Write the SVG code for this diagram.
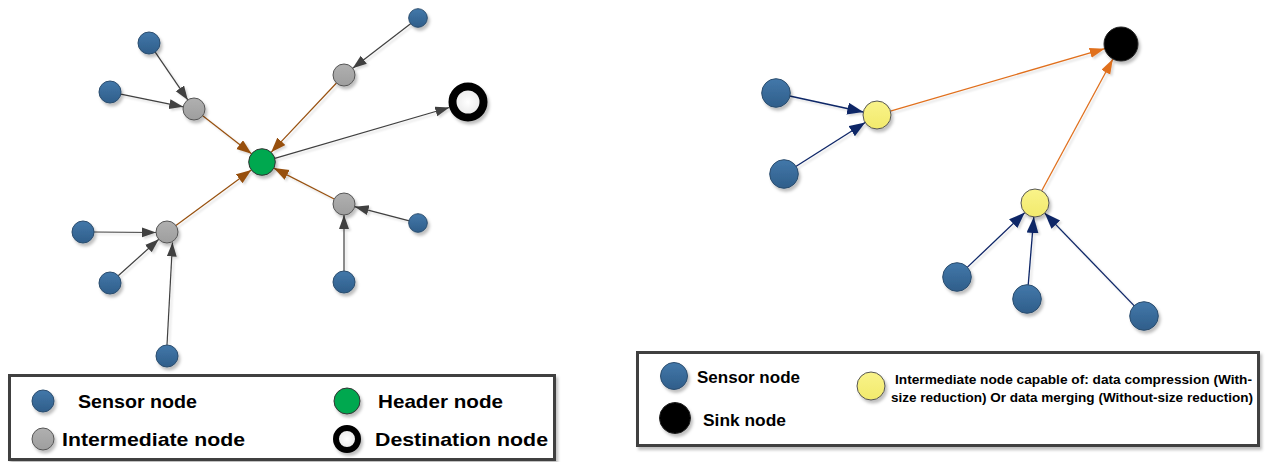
<svg xmlns="http://www.w3.org/2000/svg" width="1269" height="462" viewBox="0 0 1269 462">
<style>
.t{font-family:"Liberation Sans",Arial,sans-serif;font-weight:bold;fill:#000}
.sensor{fill:url(#gBlue);stroke:#2b4d6e;stroke-width:1}
.inter{fill:url(#gGray);stroke:#555;stroke-width:1}
.head{fill:#00a850;stroke:#333;stroke-width:1}
.yel{fill:url(#gYel);stroke:#555;stroke-width:1}
.sink{fill:#000;stroke:#222;stroke-width:1}
.dest{fill:url(#gWhite);stroke:#000}
.e-k{stroke:#404040;stroke-width:1.2;fill:none;marker-end:url(#aK)}
.e-b{stroke:#97500f;stroke-width:1.2;fill:none;marker-end:url(#aB)}
.e-n{stroke:#0b2566;stroke-width:1.3;fill:none;marker-end:url(#aN)}
.e-o{stroke:#e0701e;stroke-width:1.3;fill:none;marker-end:url(#aO)}
.box{fill:#fff;stroke:#404040;stroke-width:3}
</style>
<defs>
<linearGradient id="gBlue" x1="0" y1="0" x2="0" y2="1"><stop offset="0" stop-color="#4378aa"/><stop offset="1" stop-color="#2f5e8a"/></linearGradient>
<linearGradient id="gGray" x1="0" y1="0" x2="0" y2="1"><stop offset="0" stop-color="#b0b0b0"/><stop offset="1" stop-color="#9e9e9e"/></linearGradient>
<linearGradient id="gYel" x1="0" y1="0" x2="0" y2="1"><stop offset="0" stop-color="#f9f38a"/><stop offset="1" stop-color="#f2ea6c"/></linearGradient>
<radialGradient id="gWhite"><stop offset="0" stop-color="#ffffff"/><stop offset="1" stop-color="#e6e6e6"/></radialGradient>
<filter id="sh" x="-30%" y="-30%" width="160%" height="160%"><feDropShadow dx="2" dy="3" stdDeviation="1.5" flood-color="#000" flood-opacity="0.25"/></filter>
<filter id="shl" x="-10%" y="-10%" width="120%" height="120%"><feDropShadow dx="2" dy="2" stdDeviation="0.8" flood-color="#000" flood-opacity="0.15"/></filter>
<marker id="aK" markerUnits="userSpaceOnUse" markerWidth="15" markerHeight="11" refX="14" refY="5" orient="auto"><path d="M0,0 L14,5 L0,10 z" fill="#404040"/></marker>
<marker id="aB" markerUnits="userSpaceOnUse" markerWidth="16" markerHeight="12" refX="15" refY="5.5" orient="auto"><path d="M0,0 L15,5.5 L0,11 z" fill="#97500f"/></marker>
<marker id="aN" markerUnits="userSpaceOnUse" markerWidth="17" markerHeight="13" refX="16" refY="6" orient="auto"><path d="M0,0 L16,6 L0,12 z" fill="#0b2566"/></marker>
<marker id="aO" markerUnits="userSpaceOnUse" markerWidth="16" markerHeight="11" refX="15" refY="5" orient="auto"><path d="M0,0 L15,5 L0,10 z" fill="#e0701e"/></marker>
</defs>
<rect width="1269" height="462" fill="#fff"/>

<g id="connectors" filter="url(#shl)">
<line class="e-k" x1="155.2" y1="52.1" x2="187.8" y2="99.9"/>
<line class="e-k" x1="120.8" y1="94.2" x2="183.2" y2="106.8"/>
<line class="e-k" x1="410.9" y1="23.5" x2="352.7" y2="68.3"/>
<line class="e-b" x1="202.7" y1="115.8" x2="251.5" y2="153.8"/>
<line class="e-b" x1="336.5" y1="83.0" x2="271.1" y2="152.3"/>
<line class="e-k" x1="274.8" y1="158.3" x2="449.3" y2="107.5"/>
<line class="e-b" x1="175.9" y1="225.5" x2="251.3" y2="169.9"/>
<line class="e-b" x1="334.2" y1="199.0" x2="273.8" y2="168.1"/>
<line class="e-k" x1="94" y1="232" x2="156" y2="232.5"/>
<line class="e-k" x1="118.2" y1="275.7" x2="158.8" y2="239.3"/>
<line class="e-k" x1="167" y1="345" x2="172.5" y2="242.5"/>
<line class="e-k" x1="344" y1="271" x2="344" y2="215"/>
<line class="e-k" x1="409.3" y1="220.8" x2="354.7" y2="206.7"/>

<line class="e-n" x1="789.7" y1="96.0" x2="863.3" y2="112.0"/>
<line class="e-n" x1="795.8" y1="166.5" x2="865.2" y2="122.5"/>
<line class="e-o" x1="890.4" y1="111.1" x2="1104.7" y2="48.7"/>
<line class="e-o" x1="1041.7" y1="190.7" x2="1112.9" y2="59.0"/>
<line class="e-n" x1="967.2" y1="267.4" x2="1024.8" y2="212.6"/>
<line class="e-n" x1="1028.2" y1="285.0" x2="1033.8" y2="217.0"/>
<line class="e-n" x1="1134.3" y1="305.9" x2="1044.7" y2="213.1"/>
</g>

<g filter="url(#sh)">
<g id="s1"><circle class="sensor" cx="149" cy="43" r="11"/></g>
<g id="s2"><circle class="sensor" cx="110" cy="92" r="11"/></g>
<g id="s3"><circle class="sensor" cx="418" cy="18" r="9.3"/></g>
<g id="i1"><circle class="inter" cx="194" cy="109" r="11"/></g>
<g id="i2"><circle class="inter" cx="344" cy="75" r="11"/></g>
<g id="header"><circle class="head" cx="262" cy="162" r="13.3"/></g>
<g id="destination"><circle class="dest" cx="468" cy="102" r="15.5" stroke-width="8"/></g>
<g id="i3"><circle class="inter" cx="167" cy="232" r="11"/></g>
<g id="i4"><circle class="inter" cx="344" cy="204" r="11"/></g>
<g id="s4"><circle class="sensor" cx="83" cy="232" r="11"/></g>
<g id="s5"><circle class="sensor" cx="110" cy="283" r="11"/></g>
<g id="s6"><circle class="sensor" cx="167" cy="356" r="11"/></g>
<g id="s7"><circle class="sensor" cx="344" cy="282" r="11"/></g>
<g id="s8"><circle class="sensor" cx="418" cy="223" r="9.3"/></g>

<g id="sink"><circle class="sink" cx="1121" cy="44" r="17"/></g>
<g id="r1"><circle class="sensor" cx="776" cy="93" r="14.3"/></g>
<g id="r2"><circle class="sensor" cx="784" cy="174" r="14.3"/></g>
<g id="y1"><circle class="yel" cx="877" cy="115" r="14"/></g>
<g id="y2"><circle class="yel" cx="1035" cy="203" r="14"/></g>
<g id="r3"><circle class="sensor" cx="957" cy="277" r="14.3"/></g>
<g id="r4"><circle class="sensor" cx="1027" cy="299" r="14.3"/></g>
<g id="r5"><circle class="sensor" cx="1144" cy="316" r="14.3"/></g>
</g>

<g id="legend-left">
<rect class="box" x="9.5" y="375.5" width="545" height="84" filter="url(#sh)"/>
<g filter="url(#sh)">
<circle class="sensor" cx="43" cy="401" r="11"/>
<circle class="inter" cx="43" cy="439" r="11"/>
<circle class="head" cx="347" cy="401" r="13"/>
<circle class="dest" cx="347" cy="439" r="11" stroke-width="6"/>
</g>
<text class="t" x="78" y="407.5" font-size="19" textLength="119" lengthAdjust="spacingAndGlyphs">Sensor node</text>
<text class="t" x="62" y="446" font-size="19" textLength="183" lengthAdjust="spacingAndGlyphs">Intermediate node</text>
<text class="t" x="378" y="407.5" font-size="19" textLength="125" lengthAdjust="spacingAndGlyphs">Header node</text>
<text class="t" x="375" y="446" font-size="19" textLength="173" lengthAdjust="spacingAndGlyphs">Destination node</text>
</g>

<g id="legend-right">
<rect class="box" x="637.5" y="352.5" width="621" height="93" filter="url(#sh)"/>
<g filter="url(#sh)">
<circle class="sensor" cx="674" cy="376" r="13.5"/>
<circle class="sink" cx="675" cy="418" r="15.5"/>
<circle class="yel" cx="871" cy="386" r="14"/>
</g>
<text class="t" x="697" y="383" font-size="17" textLength="103" lengthAdjust="spacingAndGlyphs">Sensor node</text>
<text class="t" x="703" y="426" font-size="17" textLength="83" lengthAdjust="spacingAndGlyphs">Sink node</text>
<text class="t" x="895" y="384" font-size="13.5" textLength="357" lengthAdjust="spacingAndGlyphs">Intermediate node capable of: data compression (With-</text>
<text class="t" x="891" y="402" font-size="13.5" textLength="362" lengthAdjust="spacingAndGlyphs">size reduction) Or data merging (Without-size reduction)</text>
</g>
</svg>
